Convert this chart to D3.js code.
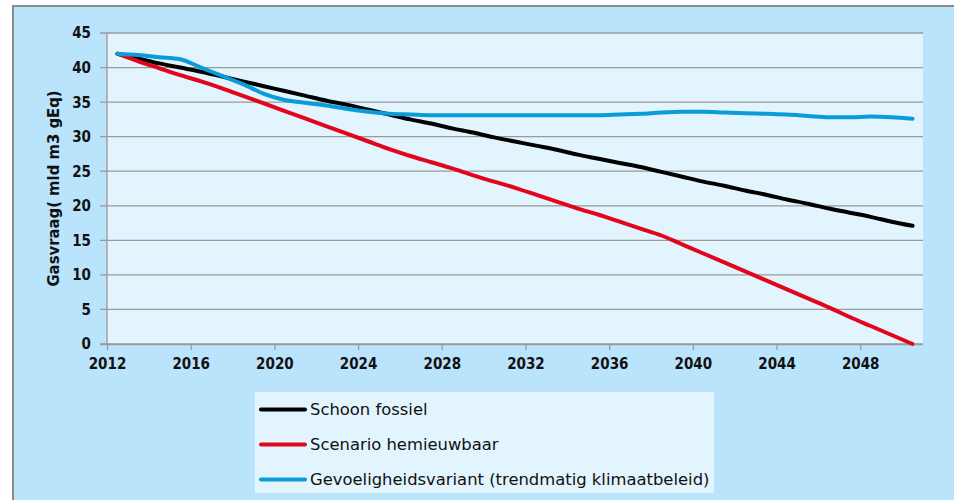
<!DOCTYPE html>
<html>
<head>
<meta charset="utf-8">
<script src="https://cdn.jsdelivr.net/npm/d3@7"></script>
<style>
  html, body { margin: 0; padding: 0; background: #ffffff; }
  svg { display: block; }
</style>
</head>
<body>
<svg id="chart" width="954" height="500"></svg>
<script>
const years = [2012,2013,2014,2015,2016,2017,2018,2019,2020,2021,2022,2023,2024,2025,2026,2027,2028,2029,2030,
  2031,2032,2033,2034,2035,2036,2037,2038,2039,2040,2041,2042,2043,2044,2045,2046,2047,2048,2049,2050];

const schoonFossiel = [42.0,41.3,40.6,40.0,39.4,38.7,38.0,37.3,36.6,35.9,35.2,34.6,33.9,33.2,32.5,31.9,31.2,30.6,29.9,
  29.3,28.7,28.1,27.4,26.8,26.2,25.6,24.9,24.2,23.5,22.9,22.2,21.6,20.9,20.3,19.6,19.0,18.4,17.7,17.1];

const scenarioHernieuwbaar = [42.0,40.9,39.9,38.9,38.0,37.0,35.9,34.8,33.7,32.6,31.5,30.4,29.3,28.2,27.2,26.3,25.4,24.4,23.5,
  22.6,21.6,20.6,19.6,18.7,17.7,16.7,15.7,14.4,13.1,11.8,10.5,9.2,7.9,6.6,5.3,3.9,2.6,1.3,0.0];

const gevoeligheidsvariant = [42.0,41.8,41.5,41.2,40.0,38.8,37.6,36.2,35.3,34.9,34.5,34.0,33.6,33.3,33.2,33.1,33.1,33.1,33.1,
  33.1,33.1,33.1,33.1,33.1,33.2,33.3,33.5,33.6,33.6,33.5,33.4,33.3,33.2,33.0,32.8,32.8,32.9,32.8,32.6];

const seriesNames = ["Schoon fossiel", "Scenario hemieuwbaar", "Gevoeligheidsvariant (trendmatig klimaatbeleid)"];
const seriesColors = ["#000000", "#e3051b", "#0a9bd9"];
const xTickLabels = [2012,2016,2020,2024,2028,2032,2036,2040,2044,2048];
const yTickLabels = [0,5,10,15,20,25,30,35,40,45];
const yAxisTitle = "Gasvraag( mld m3 gEq)";

const svg = d3.select("#chart");

// outer chart area
svg.append("rect").attr("x", 13).attr("y", 6).attr("width", 960).attr("height", 510)
  .attr("fill", "#bae3fc").attr("stroke", "#8a8a8a").attr("stroke-width", 2);

const plot = {left: 107, right: 923, top: 33, bottom: 344};

const x = d3.scaleLinear().domain([2012, 2051]).range([plot.left, plot.right]);
const y = d3.scaleLinear().domain([0, 45]).range([plot.bottom, plot.top]);

// plot background
svg.append("rect").attr("x", plot.left).attr("y", plot.top)
  .attr("width", plot.right - plot.left).attr("height", plot.bottom - plot.top)
  .attr("fill", "#e2f4fe");

// gridlines + y ticks
svg.append("g").selectAll("line").data(yTickLabels).join("line")
  .attr("x1", plot.left - 7).attr("x2", plot.right)
  .attr("y1", d => y(d)).attr("y2", d => y(d))
  .attr("stroke", "#9a9a9a").attr("stroke-width", 1.3);

// y axis line
svg.append("line").attr("x1", plot.left).attr("x2", plot.left)
  .attr("y1", plot.top).attr("y2", plot.bottom)
  .attr("stroke", "#9a9a9a").attr("stroke-width", 1.3);

const tickFont = "'DejaVu Sans Condensed', 'DejaVu Sans', sans-serif";

svg.append("g").selectAll("text").data(yTickLabels).join("text")
  .attr("x", 91).attr("y", d => y(d)).attr("dy", "0.36em")
  .attr("text-anchor", "end")
  .attr("font-family", tickFont).attr("font-weight", "bold").attr("font-size", 15)
  .attr("fill", "#111").text(d => d);

// x axis
const xAxis = d3.axisBottom(x).tickValues(xTickLabels).tickFormat(d3.format("d"))
  .tickSize(6).tickPadding(8);
const gx = svg.append("g").attr("transform", `translate(0,${plot.bottom})`).call(xAxis);
gx.select(".domain").attr("stroke", "#9a9a9a").attr("stroke-width", 1.3)
  .attr("d", `M${plot.left - 7},0.5H${plot.right}`);
gx.selectAll(".tick line").attr("stroke", "#9a9a9a").attr("stroke-width", 1.3);
gx.selectAll(".tick text").attr("font-family", tickFont).attr("font-weight", "bold")
  .attr("font-size", 15).attr("fill", "#111");

// y axis title
svg.append("text")
  .attr("transform", `translate(59,${(plot.top + plot.bottom) / 2}) rotate(-90)`)
  .attr("text-anchor", "middle")
  .attr("font-family", tickFont).attr("font-weight", "bold").attr("font-size", 16.5)
  .attr("fill", "#111").text(yAxisTitle);

// lines
const line = d3.line().x((d, i) => x(years[i] + 0.5)).y(d => y(d)).curve(d3.curveMonotoneX);
const allSeries = [schoonFossiel, scenarioHernieuwbaar, gevoeligheidsvariant];
allSeries.forEach((vals, k) => {
  svg.append("path").datum(vals).attr("d", line)
    .attr("fill", "none").attr("stroke", seriesColors[k]).attr("stroke-width", 4)
    .attr("stroke-linecap", "round").attr("stroke-linejoin", "round");
});

// legend
const lg = svg.append("g");
lg.append("rect").attr("x", 255).attr("y", 392).attr("width", 459).attr("height", 101)
  .attr("fill", "#e2f4fe");
seriesNames.forEach((name, k) => {
  const ly = 409.5 + k * 35;
  lg.append("line").attr("x1", 261).attr("x2", 305).attr("y1", ly).attr("y2", ly)
    .attr("stroke", seriesColors[k]).attr("stroke-width", 4).attr("stroke-linecap", "round");
  lg.append("text").attr("x", 310).attr("y", ly).attr("dy", "0.36em")
    .attr("font-family", "'DejaVu Sans', sans-serif").attr("font-size", 16.4)
    .attr("fill", "#111").text(name);
});
</script>
</body>
</html>
